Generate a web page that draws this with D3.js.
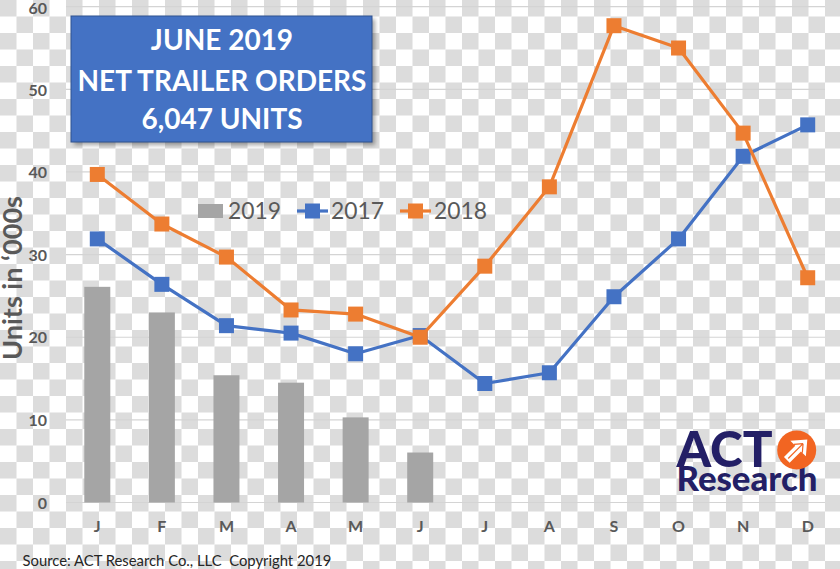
<!DOCTYPE html>
<html>
<head>
<meta charset="utf-8">
<script src="https://cdn.jsdelivr.net/npm/d3@7"></script>
<style>
  html, body { margin: 0; padding: 0; background: #fff; }
  svg { display: block; }
</style>
</head>
<body>
<svg id="chart" width="840" height="569"></svg>
<script>
// ---------- data ----------
const months = ["J","F","M","A","M","J","J","A","S","O","N","D"];
const orders2019 = [26.1, 23.0, 15.4, 14.5, 10.3, 6.047];
const orders2017 = [31.9, 26.4, 21.4, 20.5, 18.0, 20.2, 14.4, 15.7, 24.9, 31.9, 41.9, 45.7];
const orders2018 = [39.7, 33.7, 29.7, 23.3, 22.8, 20.0, 28.6, 38.2, 57.7, 55.0, 44.7, 27.2];
const yTicks = [0, 10, 20, 30, 40, 50, 60];
const seriesNames = ["2019", "2017", "2018"];
const titleLines = ["JUNE 2019", "NET TRAILER ORDERS", "6,047 UNITS"];
const yAxisTitle = "Units in \u2018000s";
const sourceText = "Source: ACT Research Co., LLC  Copyright 2019";

// ---------- styles ----------
const C_BLUE = "#4472C4", C_ORANGE = "#ED7D31", C_GREY = "#A5A5A5";
const C_TEXT = "#595959", C_NAVY = "#231F66", C_LOGO_ORANGE = "#F26522";
const FONT = "Lato, 'Open Sans', sans-serif";

const svg = d3.select("#chart");

// checkerboard background (transparent-image look)
const defs = svg.append("defs");
const cell = 16.5;
const pat = defs.append("pattern").attr("id", "checker")
  .attr("patternUnits", "userSpaceOnUse").attr("width", cell * 2).attr("height", cell * 2);
pat.append("rect").attr("width", cell * 2).attr("height", cell * 2).attr("fill", "#ffffff");
pat.append("rect").attr("x", 0).attr("y", 0).attr("width", cell).attr("height", cell).attr("fill", "#dcdcdc");
pat.append("rect").attr("x", cell).attr("y", cell).attr("width", cell).attr("height", cell).attr("fill", "#dcdcdc");
svg.append("rect").attr("width", 840).attr("height", 569).attr("fill", "url(#checker)");

const blur = defs.append("filter").attr("id", "shadow").attr("x", "-10%").attr("y", "-10%").attr("width", "130%").attr("height", "130%");
blur.append("feGaussianBlur").attr("stdDeviation", 2);

// ---------- scales ----------
const x = d3.scaleBand().domain(d3.range(months.length)).range([65, 840]).paddingInner(0).paddingOuter(0);
const y = d3.scaleLinear().domain([0, 60]).range([502.5, 6.7]);
const cx = i => x(i) + x.bandwidth() / 2;

// gridlines
svg.append("g").selectAll("line").data(yTicks).join("line")
  .attr("x1", 66).attr("x2", 825)
  .attr("y1", d => y(d)).attr("y2", d => y(d))
  .attr("stroke", "#d4d4d4").attr("stroke-width", 1.2);

// y axis labels
const yAxis = d3.axisLeft(y).tickValues(yTicks).tickSize(0).tickPadding(0);
const gy = svg.append("g").attr("transform", "translate(47,0)").call(yAxis);
gy.select(".domain").remove();
gy.selectAll("text").attr("font-family", FONT).attr("font-weight", 700)
  .attr("font-size", 16).attr("fill", C_TEXT).attr("dy", d => d === 60 ? "0.45em" : "0.36em");

// x axis labels
const xAxis = d3.axisBottom(x).tickFormat(i => months[i]).tickSize(0).tickPadding(0);
const gx = svg.append("g").attr("transform", "translate(0,521)").call(xAxis);
gx.select(".domain").remove();
gx.selectAll("text").attr("font-family", FONT).attr("font-weight", 700)
  .attr("font-size", 16).attr("fill", C_TEXT).attr("dy", "0.71em");

// bars 2019
const bw = 26;
svg.append("g").selectAll("rect").data(orders2019).join("rect")
  .attr("x", (d, i) => cx(i) - bw / 2).attr("width", bw)
  .attr("y", d => y(d)).attr("height", d => y(0) - y(d))
  .attr("fill", C_GREY);

// line series
function drawSeries(values, color) {
  const line = d3.line().x((d, i) => cx(i)).y(d => y(d));
  const g = svg.append("g");
  g.append("path").datum(values).attr("d", line)
    .attr("fill", "none").attr("stroke", color).attr("stroke-width", 3.2)
    .attr("stroke-linejoin", "round");
  const m = 15;
  g.selectAll("rect").data(values).join("rect")
    .attr("x", (d, i) => cx(i) - m / 2).attr("y", d => y(d) - m / 2)
    .attr("width", m).attr("height", m).attr("fill", color);
}
drawSeries(orders2017, C_BLUE);
drawSeries(orders2018, C_ORANGE);

// legend
const legend = svg.append("g");
const legendY = 211;
const legFont = 24;
legend.append("rect").attr("x", 198).attr("y", legendY - 7).attr("width", 25).attr("height", 14).attr("fill", C_GREY);
legend.append("text").attr("x", 228).attr("y", legendY).attr("dy", "0.36em")
  .attr("font-family", FONT).attr("font-size", legFont).attr("fill", C_TEXT).text(seriesNames[0]);
legend.append("line").attr("x1", 297).attr("x2", 328).attr("y1", legendY).attr("y2", legendY)
  .attr("stroke", C_BLUE).attr("stroke-width", 3.2);
legend.append("rect").attr("x", 305).attr("y", legendY - 7.5).attr("width", 15).attr("height", 15).attr("fill", C_BLUE);
legend.append("text").attr("x", 331).attr("y", legendY).attr("dy", "0.36em")
  .attr("font-family", FONT).attr("font-size", legFont).attr("fill", C_TEXT).text(seriesNames[1]);
legend.append("line").attr("x1", 400).attr("x2", 431).attr("y1", legendY).attr("y2", legendY)
  .attr("stroke", C_ORANGE).attr("stroke-width", 3.2);
legend.append("rect").attr("x", 408).attr("y", legendY - 7.5).attr("width", 15).attr("height", 15).attr("fill", C_ORANGE);
legend.append("text").attr("x", 434).attr("y", legendY).attr("dy", "0.36em")
  .attr("font-family", FONT).attr("font-size", legFont).attr("fill", C_TEXT).text(seriesNames[2]);

function fitWidth(sel, target) {
  const w = sel.node().getComputedTextLength();
  const fs = parseFloat(sel.attr("font-size"));
  const nfs = fs * target / w;
  sel.attr("font-size", nfs);
  return nfs;
}
legend.selectAll("text").each(function() { fitWidth(d3.select(this), 53); });

// title box
svg.append("rect").attr("x", 74).attr("y", 19).attr("width", 301).attr("height", 126)
  .attr("fill", "#000").attr("opacity", 0.35).attr("filter", "url(#shadow)");
svg.append("rect").attr("x", 71).attr("y", 16).attr("width", 301).attr("height", 126)
  .attr("fill", C_BLUE).attr("stroke", "#2F528F").attr("stroke-width", 1);
const tBase = [50, 90.5, 129];
const tt = svg.append("g").selectAll("text").data(titleLines).join("text")
  .attr("x", 222).attr("y", (d, i) => tBase[i]).attr("text-anchor", "middle")
  .attr("font-family", FONT).attr("font-weight", 700).attr("font-size", 28)
  .attr("fill", "#ffffff").text(d => d);
const tfs = fitWidth(d3.select(tt.nodes()[1]), 289);
tt.attr("font-size", tfs);

// y axis title
const yt = svg.append("text").attr("transform", "translate(22,278) rotate(-90)")
  .attr("text-anchor", "middle").attr("font-family", FONT).attr("font-weight", 700)
  .attr("font-size", 21).attr("fill", C_TEXT).text(yAxisTitle);
fitWidth(yt, 164);

// source
const st = svg.append("text").attr("x", 22.5).attr("y", 566)
  .attr("font-family", FONT).attr("font-size", 16).attr("fill", "#262626")
  .style("white-space", "pre").attr("xml:space", "preserve").text(sourceText);
fitWidth(st, 309);

// ACT Research logo
const logo = svg.append("g");
const actT = logo.append("text").attr("x", 676.5).attr("y", 466.5)
  .attr("font-family", FONT).attr("font-weight", 900).attr("font-size", 46)
  .attr("fill", C_NAVY).text("ACT");
fitWidth(actT, 96);
const resT = logo.append("text").attr("x", 676.5).attr("y", 490.5)
  .attr("font-family", FONT).attr("font-weight", 900).attr("font-size", 24)
  .attr("fill", C_NAVY).text("Research");
fitWidth(resT, 141);
const lc = logo.append("g").attr("transform", "translate(796.7,450)");
lc.append("circle").attr("r", 19.5).attr("fill", C_LOGO_ORANGE);
lc.append("path").attr("transform", "rotate(45)")
  .attr("d", "M0,-15 L11,-2 L4,-2 L4,14 L-4,14 L-4,-2 L-11,-2 Z")
  .attr("fill", "#ffffff");
lc.append("path").attr("transform", "rotate(45)")
  .attr("d", "M0,-9 L6,-2 M0,-9 L-6,-2 M0,-9 L0,12")
  .attr("stroke", C_LOGO_ORANGE).attr("stroke-width", 1.2).attr("fill", "none");
</script>
</body>
</html>
